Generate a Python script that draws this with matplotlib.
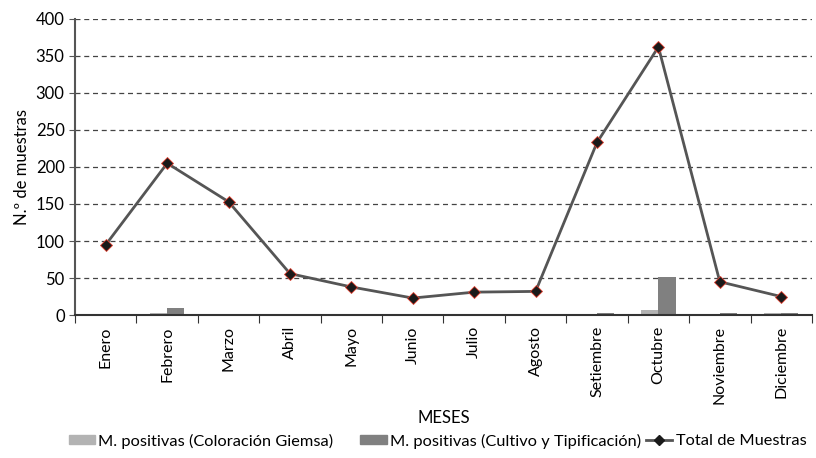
import matplotlib
matplotlib.use("Agg")
import matplotlib.pyplot as plt
import numpy as np
from matplotlib.lines import Line2D
from matplotlib.patches import Patch

months = ["Enero", "Febrero", "Marzo", "Abril", "Mayo", "Junio", "Julio",
          "Agosto", "Setiembre", "Octubre", "Noviembre", "Diciembre"]
giemsa = [1, 3, 1, 0, 0, 0, 0, 1, 1, 7, 1, 3]
cultivo = [1, 9, 1, 0, 0, 1, 0, 0, 3, 52, 3, 3]
total = [95, 205, 153, 56, 38, 23, 31, 32, 233, 362, 45, 25]
yticks = [0, 50, 100, 150, 200, 250, 300, 350, 400]

plt.rcParams['font.family'] = ['Lato', 'DejaVu Sans']
fig = plt.figure(figsize=(8.16, 4.58), dpi=100)
ax = fig.add_axes([0.092, 0.312, 0.903, 0.647])

x = np.arange(len(months))
w = 0.28
ax.bar(x - w/2, giemsa, width=w, color="#b3b3b3", zorder=2)
ax.bar(x + w/2, cultivo, width=w, color="#808080", zorder=2)
ax.plot(x, total, color="#555555", lw=2, marker="D", markersize=6.5,
        markerfacecolor="#1a1a1a", markeredgecolor="#e04030", markeredgewidth=0.6, zorder=3)

ax.set_xlim(-0.5, 11.5)
ax.set_ylim(0, 400)
ax.set_yticks(yticks)
ax.tick_params(axis='y', labelsize=12, length=4, color="#555555")
ax.yaxis.grid(True, linestyle=(0, (4, 3)), color="#444444", lw=0.9, zorder=0)
ax.set_axisbelow(True)

ax.set_xticks(np.arange(-0.5, 12, 1))
ax.set_xticklabels([])
ax.tick_params(axis='x', which='major', length=6, color="#333333")
ax.set_xticks(x, minor=True)
ax.set_xticklabels(months, minor=True, rotation=90, fontsize=11.5)
ax.tick_params(axis='x', which='minor', length=0, pad=8)

for s in ["top", "right"]:
    ax.spines[s].set_visible(False)
ax.spines["left"].set_color("#555555")
ax.spines["left"].set_linewidth(1.5)
ax.spines["bottom"].set_color("#333333")
ax.spines["bottom"].set_linewidth(1.5)

ax.set_ylabel("N.º de muestras", fontsize=12)
ax.set_xlabel("MESES", fontsize=12, labelpad=4)

handles = [Patch(color="#b3b3b3"), Patch(color="#808080"),
           Line2D([0], [0], color="#555555", lw=2, marker="D", markersize=5,
                  markerfacecolor="#1a1a1a", markeredgecolor="#1a1a1a")]
labels = ["M. positivas (Coloración Giemsa)", "M. positivas (Cultivo y Tipificación)",
          "Total de Muestras"]
starts = [69, 360, 646]
hlens = [1.6, 1.65, 1.6]
for h, l, s, hl in zip(handles, labels, starts, hlens):
    fig.legend([h], [l], loc="center left", bbox_to_anchor=(s / 816, 0.037),
               frameon=False, fontsize=11.8, handlelength=hl, handleheight=0.45,
               handletextpad=0.2, borderpad=0, borderaxespad=0)

fig.savefig("out.png", dpi=100)
